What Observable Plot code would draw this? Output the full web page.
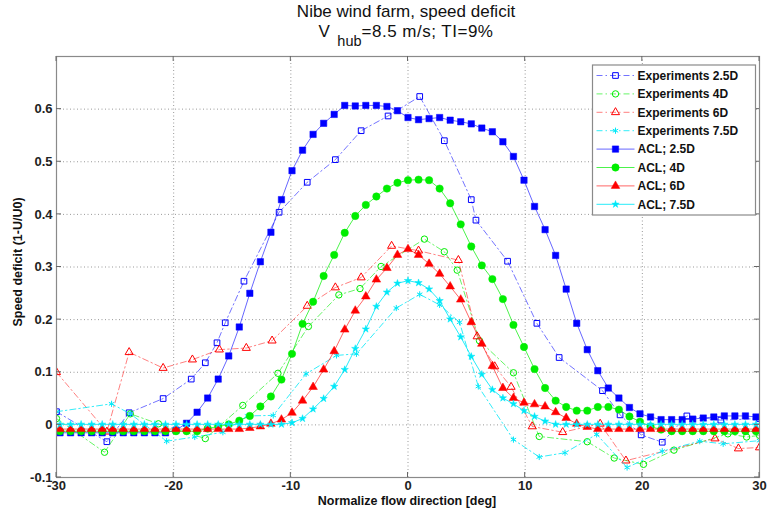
<!DOCTYPE html>
<html><head><meta charset="utf-8">
<script src="https://cdn.jsdelivr.net/npm/d3@7"></script>
<script src="https://cdn.jsdelivr.net/npm/@observablehq/plot@0.6"></script>
<style>
body{margin:0;background:#fff;}
#wrap{position:relative;width:767px;height:515px;font-family:"Liberation Sans",Arial,sans-serif;overflow:hidden;}
.title{position:absolute;left:0;width:812px;text-align:center;font-size:17px;line-height:15px;color:#111;white-space:nowrap;}
#chart{position:absolute;left:0;top:50px;}
#xlab{position:absolute;left:0;width:814px;top:495px;line-height:13px;text-align:center;font-size:12.5px;font-weight:bold;color:#111;white-space:nowrap;}
#ylab{position:absolute;left:18px;top:262px;transform:translate(-50%,-50%) rotate(-90deg);font-size:12.5px;line-height:13px;font-weight:bold;color:#111;white-space:nowrap;}
</style></head>
<body><div id="wrap">
<div class="title" style="top:4px">Nibe wind farm, speed deficit</div>
<div class="title" style="top:23.5px;letter-spacing:0.5px">V<span style="font-size:14.5px;position:relative;top:9px;margin-left:7px;letter-spacing:0">hub</span>=8.5 m/s; TI=9%</div>
<div id="chart"></div>
<div id="xlab">Normalize flow direction [deg]</div>
<div id="ylab">Speed deficit (1-U/U0)</div>
</div>
<script>
const xTicks = [-30, -20, -10, 0, 10, 20, 30];
const yTicks = [-0.1, 0, 0.1, 0.2, 0.3, 0.4, 0.5, 0.6];
const seriesNames = ["Experiments 2.5D", "Experiments 4D", "Experiments 6D", "Experiments 7.5D", "ACL; 2.5D", "ACL; 4D", "ACL; 6D", "ACL; 7.5D"];

// Experiments
const exp25X = [-30, -25.7, -23.8, -20.9, -18.5, -17.3, -16.3, -15.6, -14.0, -11.0, -8.6, -6.2, -4.0, -1.7, 1.0, 3.1, 5.4, 5.8, 8.5, 11.0, 12.9, 16.6, 18.1, 19.9, 21.7, 23.8, 26.7, 30];
const exp25Y = [0.025, -0.032, 0.023, 0.050, 0.087, 0.118, 0.156, 0.194, 0.273, 0.404, 0.461, 0.504, 0.559, 0.587, 0.624, 0.540, 0.428, 0.389, 0.311, 0.193, 0.128, 0.065, 0.019, -0.019, -0.033, 0.017, 0.009, 0.012];
const exp4X = [-30, -25.9, -23.7, -21.3, -17.3, -14.1, -11.1, -8.5, -5.9, -4.1, -2.3, 1.4, 3.1, 4.2, 6.1, 9.0, 11.2, 15.3, 17.6, 20.1, 22.7, 27.3, 28.9, 30];
const exp4Y = [0.012, -0.052, 0.021, 0.002, -0.026, 0.037, 0.098, 0.187, 0.247, 0.259, 0.301, 0.353, 0.329, 0.294, 0.160, 0.099, -0.022, -0.032, -0.063, -0.075, -0.048, -0.017, -0.023, -0.020];
const exp6X = [-30, -25.7, -23.8, -20.9, -18.4, -16.1, -13.8, -11.6, -8.6, -6.2, -4.0, -1.4, 0.9, 4.3, 5.9, 7.4, 8.8, 10.6, 13.2, 16.4, 18.6, 26.2, 28.2, 30];
const exp6Y = [0.100, -0.013, 0.138, 0.108, 0.124, 0.143, 0.146, 0.160, 0.226, 0.261, 0.280, 0.340, 0.331, 0.313, 0.168, 0.111, 0.072, -0.003, -0.014, 0.002, -0.068, -0.026, -0.045, -0.043];
const exp75X = [-30, -25.3, -23.7, -20.6, -18.2, -15.8, -13.7, -11.5, -8.7, -6.1, -4.4, -1.0, 1.0, 2.7, 4.4, 6.0, 9.0, 11.2, 13.4, 16.1, 18.7, 21.7, 24.9, 26.9, 30];
const exp75Y = [0.025, 0.040, 0.021, -0.031, -0.023, -0.014, 0.017, 0.018, 0.097, 0.132, 0.135, 0.222, 0.248, 0.228, 0.195, 0.073, -0.028, -0.061, -0.053, -0.018, -0.081, -0.050, -0.031, -0.036, -0.030];

// ACL simulations (shared x grid)
const aclX = [-29.7, -28.8, -27.9, -27, -26.1, -25.2, -24.3, -23.4, -22.5, -21.6, -20.7, -19.8, -18.9, -18, -17.1, -16.2, -15.3, -14.4, -13.5, -12.6, -11.7, -10.8, -9.9, -9, -8.1, -7.2, -6.3, -5.4, -4.5, -3.6, -2.7, -1.8, -0.9, 0, 0.9, 1.8, 2.7, 3.6, 4.5, 5.4, 6.3, 7.2, 8.1, 9, 9.9, 10.8, 11.7, 12.6, 13.5, 14.4, 15.3, 16.2, 17.1, 18, 18.9, 19.8, 20.7, 21.6, 22.5, 23.4, 24.3, 25.2, 26.1, 27, 27.9, 28.8, 29.7];
const acl25 = [-0.015, -0.015, -0.015, -0.015, -0.015, -0.015, -0.015, -0.015, -0.015, -0.015, -0.015,
  -0.010, 0.003, 0.024, 0.051, 0.087, 0.131, 0.186, 0.250, 0.310, 0.366, 0.428, 0.483, 0.522, 0.552, 0.573, 0.590, 0.607, 0.606, 0.607, 0.607, 0.605, 0.597, 0.584,
  0.580, 0.582, 0.584, 0.579, 0.576, 0.572, 0.564, 0.557, 0.538, 0.510, 0.465, 0.415, 0.371, 0.322, 0.258, 0.193, 0.143, 0.103, 0.070, 0.051, 0.033, 0.021, 0.015, 0.010, 0.010, 0.010, 0.011, 0.013, 0.015, 0.017, 0.017, 0.017, 0.015];
const acl4 = [-0.012, -0.012, -0.012, -0.012, -0.012, -0.012, -0.012, -0.012, -0.012, -0.012, -0.012, -0.012, -0.012, -0.012,
  -0.007, -0.003, 0.001, 0.008, 0.017, 0.035, 0.054, 0.086, 0.135, 0.192, 0.234, 0.283, 0.323, 0.365, 0.397, 0.418, 0.434, 0.449, 0.460, 0.465,
  0.466, 0.465, 0.449, 0.421, 0.381, 0.339, 0.303, 0.277, 0.239, 0.190, 0.148, 0.106, 0.070, 0.046, 0.034, 0.027, 0.027, 0.034, 0.034, 0.029, 0.016, 0.006, -0.003, -0.009,
  -0.012, -0.012, -0.012, -0.012, -0.012, -0.012, -0.012, -0.012, -0.012];
const acl6 = [-0.008, -0.008, -0.008, -0.008, -0.008, -0.008, -0.008, -0.008, -0.008, -0.008, -0.008, -0.008, -0.008, -0.008, -0.008, -0.008, -0.008, -0.008,
  -0.006, -0.003, 0.002, 0.010, 0.023, 0.046, 0.072, 0.105, 0.140, 0.181, 0.217, 0.244, 0.276, 0.298, 0.323, 0.334,
  0.323, 0.306, 0.287, 0.263, 0.238, 0.195, 0.154, 0.112, 0.070, 0.051, 0.042, 0.039, 0.035, 0.024, 0.013, 0.002, -0.004,
  -0.008, -0.008, -0.008, -0.008, -0.008, -0.008, -0.008, -0.008, -0.008, -0.008, -0.008, -0.008, -0.008, -0.008, -0.008, -0.008];
const acl75 = [0.001, 0.001, 0.001, 0.001, 0.001, 0.001, 0.001, 0.001, 0.001, 0.001, 0.001, 0.001, 0.001, 0.001, 0.001, 0.001, 0.001, 0.001, 0.001, 0.001, 0.001, 0.001,
  0.004, 0.012, 0.030, 0.050, 0.073, 0.105, 0.145, 0.182, 0.225, 0.252, 0.269, 0.274,
  0.270, 0.258, 0.236, 0.201, 0.167, 0.130, 0.096, 0.067, 0.051, 0.040, 0.027, 0.016, 0.007,
  0.001, 0.001, 0.001, 0.001, 0.001, 0.001, 0.001, 0.001, 0.001, 0.001, 0.001, 0.001, 0.001, 0.001, 0.001, 0.001, 0.001, 0.001, 0.001, 0.001];

const DASHDOT = "6,3,1.5,3";
const series = [
  {name: seriesNames[0], xs: exp25X, ys: exp25Y, color: "#0000ff", symbol: "square", r: 3.2, filled: false, dash: DASHDOT, lo: 0.55},
  {name: seriesNames[1], xs: exp4X, ys: exp4Y, color: "#00ee00", symbol: "circle", r: 3.2, filled: false, dash: DASHDOT, lo: 0.6},
  {name: seriesNames[2], xs: exp6X, ys: exp6Y, color: "#ff0000", symbol: "triangle", r: 3.0, filled: false, dash: DASHDOT, lo: 0.5},
  {name: seriesNames[3], xs: exp75X, ys: exp75Y, color: "#00e8f8", symbol: "asterisk", r: 2.9, filled: false, dash: DASHDOT, lo: 0.8},
  {name: seriesNames[4], xs: aclX, ys: acl25, color: "#0000ff", symbol: "square", r: 3.6, filled: true, dash: null, lo: 0.6},
  {name: seriesNames[5], xs: aclX, ys: acl4, color: "#00ee00", symbol: "circle", r: 3.7, filled: true, dash: null, lo: 0.7},
  {name: seriesNames[6], xs: aclX, ys: acl6, color: "#ff0000", symbol: "triangle", r: 3.2, filled: true, dash: null, lo: 0.6},
  {name: seriesNames[7], xs: aclX, ys: acl75, color: "#00e8f8", symbol: "star", r: 2.3, filled: true, dash: null, lo: 0.85}
];

const marks = [
  Plot.gridX(xTicks, {stroke: "#999", strokeOpacity: 1, strokeDasharray: "1,2.5"}),
  Plot.gridY(yTicks, {stroke: "#999", strokeOpacity: 1, strokeDasharray: "1,2.5"}),
  Plot.axisX(xTicks, {tickSize: 0, tickPadding: 3, label: null, tickFormat: d => String(d)}),
  Plot.axisY(yTicks, {tickSize: 0, tickPadding: 4, label: null, tickFormat: d => String(d)})
];
for (const s of series) {
  const rows = s.xs.map((x, i) => ({x, y: s.ys[i]}));
  marks.push(Plot.line(rows, {x: "x", y: "y", stroke: s.color, strokeWidth: 1, strokeOpacity: s.lo, strokeDasharray: s.dash || undefined, clip: true}));
  marks.push(Plot.dot(rows, {x: "x", y: "y", symbol: s.symbol, r: s.r,
    fill: s.filled ? s.color : "none", stroke: s.color, strokeWidth: s.filled ? 0.5 : 1, clip: true}));
}
marks.push(Plot.frame({stroke: "#8a8a8a", strokeWidth: 1.2}));

const chart = Plot.plot({
  width: 767, height: 465,
  marginLeft: 56, marginRight: 8, marginTop: 6, marginBottom: 38,
  style: {fontFamily: "'Liberation Sans', Arial, sans-serif", fontSize: "13px", fontWeight: "bold", color: "#222", background: "white", overflow: "visible"},
  x: {domain: [-30, 30]},
  y: {domain: [-0.1, 0.7]},
  marks
});
document.getElementById("chart").appendChild(chart);

// inward tick marks and legend
const sx = chart.scale("x"), sy = chart.scale("y");
const svg = d3.select(chart);
const yb = sy.apply(-0.1), yt = sy.apply(0.7), xl = sx.apply(-30), xr = sx.apply(30);
const tg = svg.append("g").attr("stroke", "#666").attr("stroke-width", 1);
for (const t of xTicks) {
  const x = sx.apply(t);
  tg.append("line").attr("x1", x).attr("x2", x).attr("y1", yb).attr("y2", yb - 5);
  tg.append("line").attr("x1", x).attr("x2", x).attr("y1", yt).attr("y2", yt + 5);
}
for (const t of yTicks) {
  const y = sy.apply(t);
  tg.append("line").attr("x1", xl).attr("x2", xl + 5).attr("y1", y).attr("y2", y);
  tg.append("line").attr("x1", xr).attr("x2", xr - 5).attr("y1", y).attr("y2", y);
}
const symMap = {square: d3.symbolSquare, circle: d3.symbolCircle, triangle: d3.symbolTriangle, asterisk: d3.symbolAsterisk, star: d3.symbolStar};
const lg = svg.append("g").attr("transform", "translate(592.5,15)").attr("text-anchor", "start");
lg.append("rect").attr("width", 163).attr("height", 150).attr("fill", "white").attr("stroke", "#8a8a8a").attr("stroke-width", 1.2);
series.forEach((s, i) => {
  const y = 10.5 + i * 18.4;
  lg.append("line").attr("x1", 4).attr("x2", 42).attr("y1", y).attr("y2", y)
    .attr("stroke", s.color).attr("stroke-opacity", s.lo).attr("stroke-dasharray", s.dash);
  lg.append("path").attr("transform", `translate(23,${y})`)
    .attr("d", d3.symbol(symMap[s.symbol], Math.PI * s.r * s.r)())
    .attr("fill", s.filled ? s.color : "none").attr("stroke", s.color).attr("stroke-width", s.filled ? 0.5 : 1);
  lg.append("text").attr("x", 45).attr("y", y + 4.3).attr("font-size", 12).attr("font-weight", "bold")
    .attr("text-anchor", "start").attr("fill", "#111").text(s.name);
});
</script>
</body></html>
